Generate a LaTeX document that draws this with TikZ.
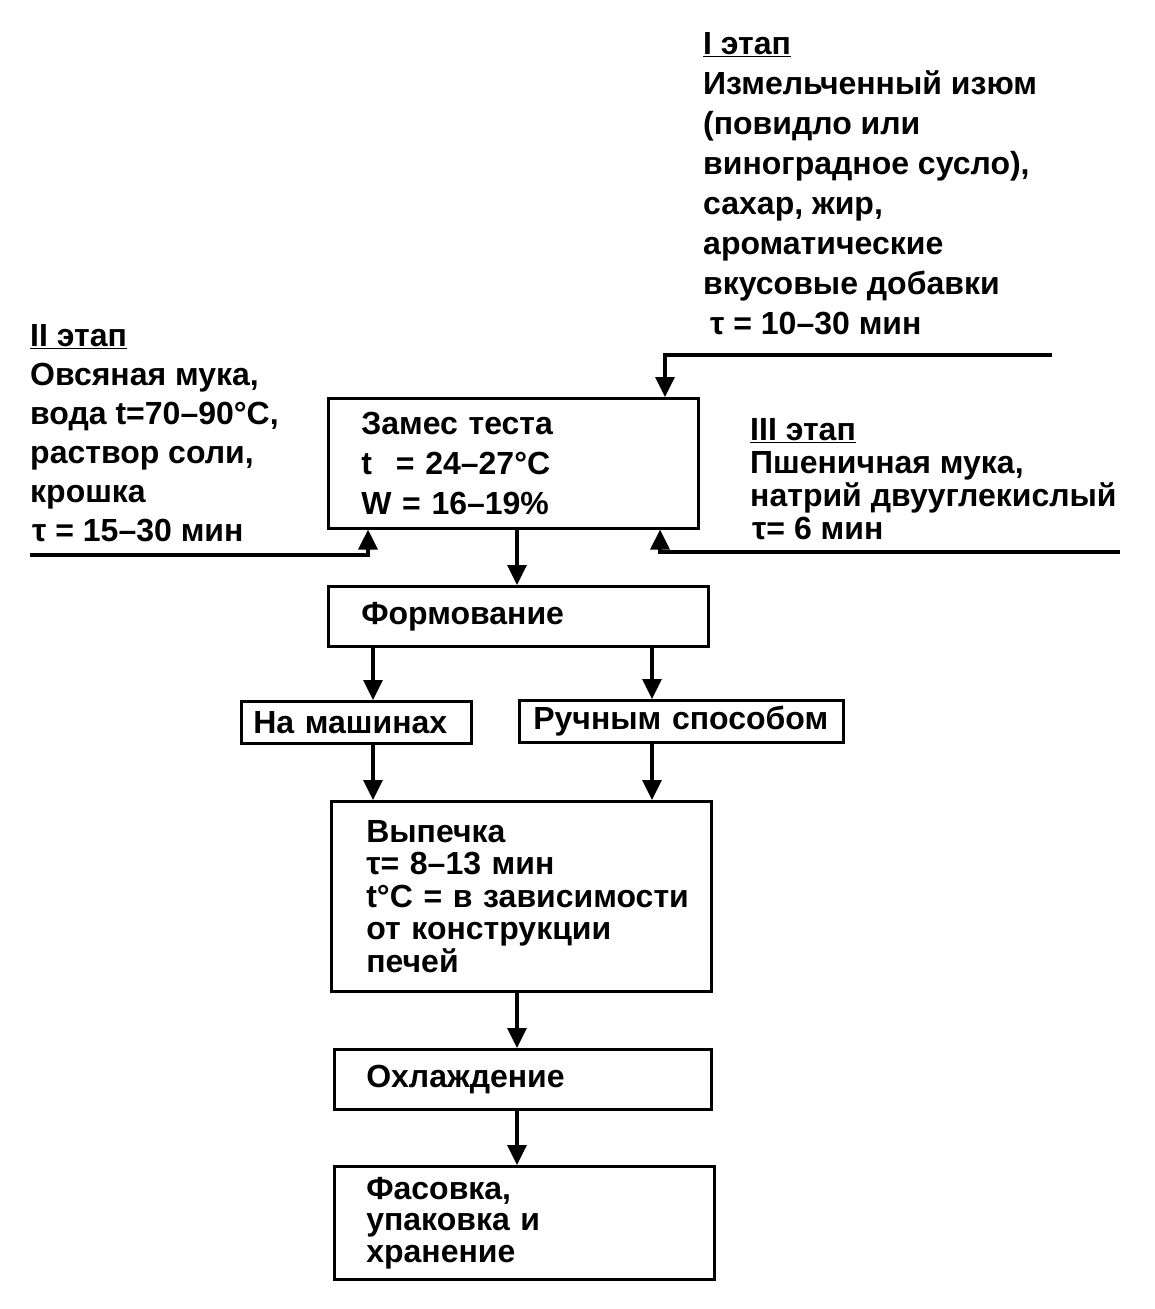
\documentclass[tikz,border=0pt]{standalone}
\usepackage{fontspec}
\setmainfont{Liberation Sans}
\usetikzlibrary{arrows.meta}
\tikzset{
  x=1pt,y=-1pt,
  box/.style={draw,line width=2.6pt,anchor=north west,inner ysep=0pt,align=left,font=\bfseries\fontsize{32}{40}\selectfont},
  lbl/.style={anchor=north west,inner sep=0pt,align=left,font=\bfseries\fontsize{32}{40}\selectfont},
  arr/.style={line width=3.2pt,-{Triangle[length=20pt,width=19pt]}},
}
\begin{document}
\begin{tikzpicture}
\useasboundingbox (0,0) rectangle (1154,1309);
% boxes
\node[box,minimum width=370pt,minimum height=130pt,inner xsep=33pt,text width=304pt] (zames) at (327,397)
  {Замес теста\\t\hspace{24pt}= 24–27°C\\W = 16–19\%};
\node[box,minimum width=380pt,minimum height=60pt,inner xsep=33pt,text width=314pt] (form) at (327,585)
  {Формование};
\node[box,minimum width=230pt,minimum height=42pt,inner xsep=12pt,text width=206pt] (mash) at (240,700)
  {На машинах};
\node[box,minimum width=324pt,minimum height=42pt,inner xsep=14pt,text width=296pt] (ruch) at (518,699)
  {Ручным способом};
\node[box,minimum width=380pt,minimum height=190pt,inner xsep=35pt,text width=310pt,font=\bfseries\fontsize{32}{32.5}\selectfont] (vyp) at (330,800)
  {Выпечка\\τ= 8–13 мин\\\mbox{t°C = в зависимости}\\от конструкции\\печей};
\node[box,minimum width=377pt,minimum height=60pt,inner xsep=32pt,text width=313pt] (ohl) at (333,1048)
  {Охлаждение};
\node[box,minimum width=380pt,minimum height=113pt,inner xsep=32pt,text width=316pt,font=\bfseries\fontsize{32}{31.5}\selectfont] (fas) at (333,1165)
  {Фасовка,\\упаковка и\\хранение};
% labels
\node[lbl] (s1) at (703,32)
  {\underline{I этап}\\Измельченный изюм\\(повидло или\\виноградное сусло),\\сахар, жир,\\ароматические\\вкусовые добавки\\\hspace{7pt}τ = 10–30 мин};
\node[lbl,font=\bfseries\fontsize{32}{39}\selectfont] (s2) at (30,324)
  {\underline{II этап}\\Овсяная мука,\\вода t=70–90°C,\\раствор соли,\\крошка\\\hspace{2pt}τ = 15–30 мин};
\node[lbl,font=\bfseries\fontsize{32}{33}\selectfont] (s3) at (750,418)
  {\underline{III этап}\\Пшеничная мука,\\натрий двууглекислый\\\hspace{2pt}τ= 6 мин};
% columns
\coordinate (cT) at (665,0);
\coordinate (cL) at (368,0);
\coordinate (cR) at (660,0);
\coordinate (cM) at (517,0);
\coordinate (cA) at (373,0);
\coordinate (cB) at (652,0);
\coordinate (t1) at (1052,355);
\coordinate (l1) at (30,555);
\coordinate (r1) at (1120,552);
% connectors
\draw[arr] (t1) -| (zames.north -| cT);
\draw[arr] (l1) -| (zames.south -| cL);
\draw[arr] (r1) -| (zames.south -| cR);
\draw[arr] (zames.south -| cM) -- (form.north -| cM);
\draw[arr] (form.south -| cA) -- (mash.north -| cA);
\draw[arr] (form.south -| cB) -- (ruch.north -| cB);
\draw[arr] (mash.south -| cA) -- (vyp.north -| cA);
\draw[arr] (ruch.south -| cB) -- (vyp.north -| cB);
\draw[arr] (vyp.south -| cM) -- (ohl.north -| cM);
\draw[arr] (ohl.south -| cM) -- (fas.north -| cM);
\end{tikzpicture}
\end{document}
